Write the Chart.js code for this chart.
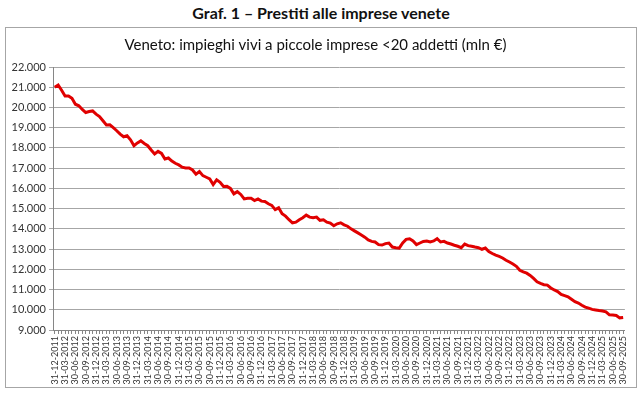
<!DOCTYPE html>
<html><head><meta charset="utf-8">
<script src="https://cdn.jsdelivr.net/npm/chart.js@4"></script>
<style>
html,body{margin:0;padding:0;background:#fff;}
#t{position:absolute;left:0;top:3px;width:642px;text-align:center;font:bold 16px/19px Lato;color:#111;}
#box{position:absolute;left:5px;top:27px;width:630px;height:359px;border:1px solid #a6a6a6;}
canvas{display:block;}
</style></head><body>
<div id="t">Graf. 1 – Prestiti alle imprese venete</div>
<div id="box"><canvas id="c" width="630" height="359"></canvas></div>
<script>
// Quarterly tick labels shown on the x axis
const tickLabels = [
 "31-12-2011","31-03-2012","30-06-2012","30-09-2012","31-12-2012","31-03-2013","30-06-2013","30-09-2013",
 "31-12-2013","31-03-2014","30-06-2014","30-09-2014","31-12-2014","31-03-2015","30-06-2015","30-09-2015",
 "31-12-2015","31-03-2016","30-06-2016","30-09-2016","31-12-2016","31-03-2017","30-06-2017","30-09-2017",
 "31-12-2017","31-03-2018","30-06-2018","30-09-2018","31-12-2018","31-03-2019","30-06-2019","30-09-2019",
 "31-12-2019","31-03-2020","30-06-2020","30-09-2020","31-12-2020","31-03-2021","30-06-2021","30-09-2021",
 "31-12-2021","31-03-2022","30-06-2022","30-09-2022","31-12-2022","31-03-2023","30-06-2023","30-09-2023",
 "31-12-2023","31-03-2024","30-06-2024","30-09-2024","31-12-2024","31-03-2025","30-06-2025","30-09-2025"
];
// Monthly categories (Dec 2011 .. Sep 2025)
const categories = [];
{
  let y = 2011, m = 12;
  while (y < 2025 || (y === 2025 && m <= 9)) {
    const last = new Date(y, m, 0).getDate();
    categories.push(String(last).padStart(2,'0') + '-' + String(m).padStart(2,'0') + '-' + y);
    m++; if (m > 12) { m = 1; y++; }
  }
}
// Impieghi vivi a piccole imprese <20 addetti, mln €
const values = [
 21000,21110,20850,20570,20570,20450,20160,20080,19900,19750,19800,19830,
 19670,19550,19340,19130,19140,19000,18850,18680,18550,18600,18400,18110,
 18250,18350,18220,18110,17900,17700,17830,17730,17450,17500,17350,17240,
 17160,17050,17010,17010,16910,16700,16830,16630,16550,16470,16190,16420,
 16300,16090,16100,16000,15730,15840,15700,15480,15510,15510,15400,15480,
 15370,15350,15240,15160,14950,15040,14750,14630,14450,14300,14330,14450,
 14550,14680,14580,14550,14580,14420,14450,14330,14280,14150,14250,14300,
 14200,14130,14000,13900,13800,13700,13590,13450,13380,13350,13220,13200,
 13270,13300,13100,13070,13050,13300,13480,13510,13400,13220,13300,13380,
 13400,13350,13400,13510,13350,13380,13300,13250,13190,13140,13070,13250,
 13170,13140,13100,13070,12990,13050,12880,12780,12700,12640,12560,12450,
 12360,12260,12150,11950,11870,11810,11700,11550,11380,11300,11240,11220,
 11080,10980,10900,10760,10700,10640,10520,10400,10330,10220,10130,10080,
 10020,9990,9960,9940,9900,9750,9740,9720,9600,9620
];
const yMin = 9000, yMax = 22000, yStep = 1000;
const fmt = v => Math.round(v).toString().replace(/\B(?=(\d{3})+(?!\d))/g, '.');

new Chart(document.getElementById('c'), {
  type: 'line',
  data: { labels: categories, datasets: [{
    data: values, borderColor: '#e00000', borderWidth: 3, pointRadius: 0, tension: 0, fill: false
  }]},
  options: {
    responsive: false, animation: false,
    layout: { padding: { left: 0, right: 11, top: 0, bottom: 0 } },
    plugins: {
      legend: { display: false }, tooltip: { enabled: false },
      title: { display: true, text: 'Veneto: impieghi vivi a piccole imprese <20 addetti (mln €)',
        font: { family: 'Lato', size: 15, weight: 'normal' }, color: '#111', padding: { top: 8, bottom: 13 } }
    },
    scales: {
      x: {
        type: 'category', offset: true,
        grid: { display: true, drawOnChartArea: false, drawTicks: true, tickLength: 4, color: '#868686' },
        border: { color: '#868686' },
        ticks: { autoSkip: false, maxRotation: 90, minRotation: 90, padding: 2,
          font: { family: 'Lato', size: 9 }, color: '#333',
          callback: (v, i) => (i % 3 === 0 ? tickLabels[i / 3] : '') },
        afterFit: s => { s.height = 57; }
      },
      y: {
        min: yMin, max: yMax,
        ticks: { stepSize: yStep, callback: v => fmt(v), font: { family: 'Lato', size: 11 }, color: '#333', padding: 3 },
        grid: { color: '#a6a6a6', tickLength: 4 },
        border: { color: '#868686' },
        afterFit: s => { s.width = 47; }
      }
    }
  }
});
</script></body></html>
